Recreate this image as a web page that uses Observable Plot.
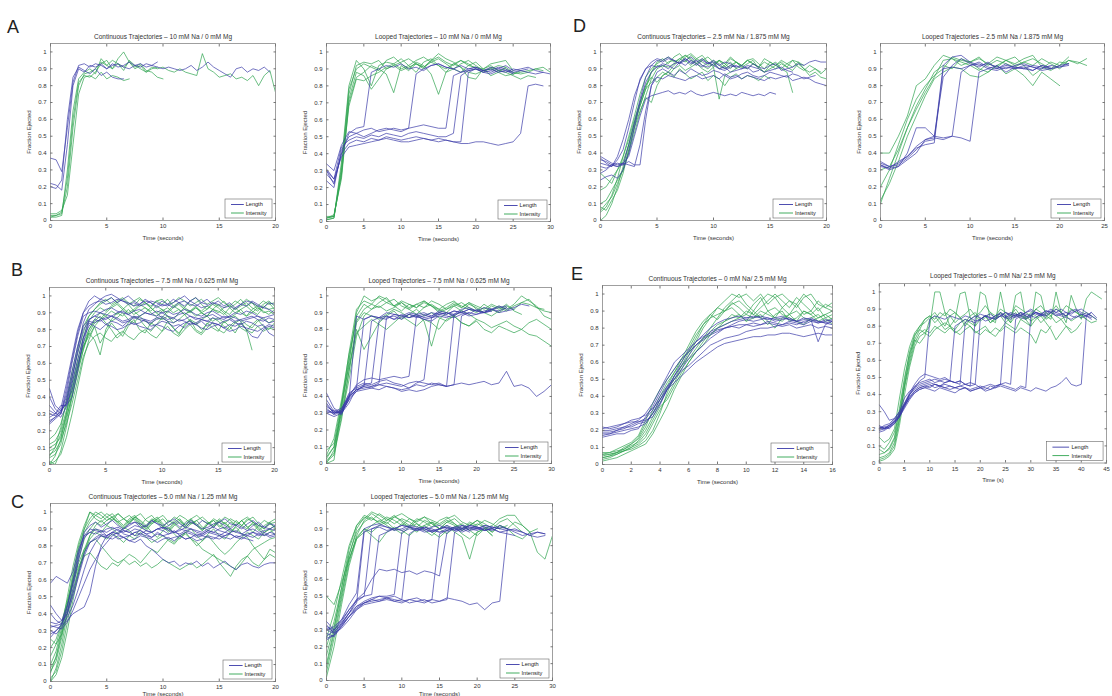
<!DOCTYPE html>
<html><head><meta charset="utf-8">
<script src="https://cdn.jsdelivr.net/npm/d3@7"></script>
<script src="https://cdn.jsdelivr.net/npm/@observablehq/plot@0.6"></script>
<style>
body{margin:0;background:#fff;}
#wrap{position:relative;width:1112px;height:696px;overflow:hidden;background:#fff;font-family:"Liberation Sans",Arial,sans-serif;}
.letter{position:absolute;font-size:18px;line-height:18px;color:#222;}
.pan{position:absolute;}
</style></head><body><div id="wrap"></div>
<script>
// ---- values are Fraction Ejected in hundredths (100 = 1.0), sampled every dt seconds ----
const yTickValues=[0,10,20,30,40,50,60,70,80,90,100];
const yTickLabels=["0","0.1","0.2","0.3","0.4","0.5","0.6","0.7","0.8","0.9","1"];
const seriesNames=["Length","Intensity"];
const panelLetters=["A","B","C","D","E"];
const panelTitles=[
 "Continuous Trajectories – 10 mM Na / 0 mM Mg","Looped Trajectories – 10 mM Na / 0 mM Mg",
 "Continuous Trajectories – 2.5 mM Na / 1.875 mM Mg","Looped Trajectories – 2.5 mM Na / 1.875 mM Mg",
 "Continuous Trajectories – 7.5 mM Na / 0.625 mM Mg","Looped Trajectories – 7.5 mM Na / 0.625 mM Mg",
 "Continuous Trajectories – 0 mM Na/ 2.5 mM Mg","Looped Trajectories – 0 mM Na/ 2.5 mM Mg",
 "Continuous Trajectories – 5.0 mM Na / 1.25 mM Mg","Looped Trajectories – 5.0 mM Na / 1.25 mM Mg"];
const xTicks20=[0,5,10,15,20], xTicks30=[0,5,10,15,20,25,30], xTicks25=[0,5,10,15,20,25];
const xTicks16=[0,2,4,6,8,10,12,14,16], xTicks45=[0,5,10,15,20,25,30,35,40,45];
const xLabels=["Time (seconds)","Time (s)"];

// A continuous (dt 0.5)
const A_cont_len=[
[37,36,29,55,82,92,93,91,93,92,90,93,91,92,94,92,91,93,92,91,90,91,90,89,90,92,89,91,94,91,89,87,85,90,91,88,90,89,91,88],
[22,21,18,45,80,90,88,92,91,93,90,92,93,91,90,92,93,91,92,94],
[20,19,24,60,85,91,89,87,90,86,88,85,84,84]];
const A_cont_int=[
[3,3,4,20,55,80,87,88,90,94,92,90,93,89,95,92,90,88,91,90,91,89,88,90,88,87,86,99,90,88,85,86,87,84,85,83,86,80,86,89,76],
[2,3,5,25,60,82,86,85,88,93,95,90,96,100,94,91,93,89,88,85,84],
[4,4,6,15,45,75,85,86,84,88,84,86,85,83,84],
[2,2,3,30,65,84,88,90,87,96,92,95,93,91,94,90,92,88,90,91]];
// A looped (dt 1)
const A_loop_len=[
[30,22,40,52,55,56,88,90,92,91,93,90,91,89,92,93,91,90,88,89,90,88,87,89,88,90,89,88,87,88,87],
[34,30,45,53,52,54,55,53,54,55,54,55,87,90,92,93,91,90,92,90,91,89,88,90,89,88],
[24,20,42,50,52,50,52,54,55,54,53,55,56,57,56,55,55,86,88,90,91,89,90,88,89,87],
[30,25,44,48,50,49,51,50,52,51,50,52,53,52,51,50,50,52,86,89,90,88,89,91,90,88,89,90],
[28,23,40,46,48,47,49,48,50,49,48,49,50,49,48,49,48,47,47,88,90,89,91,90,92,89,90,91,89,88],
[31,25,38,44,45,46,47,48,49,48,47,47,48,49,48,47,48,47,46,46,47,47,46,45,46,47,52,80,81,80]];
const A_loop_int=[
[2,3,30,75,92,94,93,95,90,92,94,96,93,91,95,97,94,92,95,93,90,88,91,89,90,87,88,89,90,91,88],
[1,2,35,80,95,90,80,92,94,93,96,92,95,97,94,96,93,90,88,92,94,90,86,88,91],
[2,4,25,70,85,88,92,90,87,76,92,89,93,91,94,92,88,90,93,95,92,89,90,88,86,87,89],
[3,3,28,68,84,83,86,88,91,93,90,92,88,94,96,92,90,93,91,88,87,89,90,92,91,88,87,88,90,89],
[1,2,32,78,90,93,91,89,95,97,93,90,94,92,87,75,88,93,95,92,91,90,93,94,95,89],
[2,3,27,72,88,86,78,84,90,92,89,91,93,90,95,99,96,94,91,85,84,90,92,89,88,86,84,86,85]];
// D continuous (dt 0.5)
const D_cont_len=[
[36,35,33,34,33,45,58,72,85,92,95,94,96,95,93,95,97,94,96,93,95,92,94,93,91,92,90,93,91,90,92,93,89,90,91,93,92,94,95,94,94],
[38,36,34,33,34,38,50,62,72,74,75,76,77,75,76,75,77,75,74,75,76,75,74,75,74,76,75,74,75,74,76,75],
[28,30,33,32,34,33,32,45,65,80,85,84,86,85,84,83,85,86,84,85,86,84,87,85,86,84,86,85,84,83,85,84,85,86,83,84,85,84,82,81,80],
[24,26,27,25,30,40,55,70,82,88,91,92,90,93,94,92,95,93,91,94,92,90,91,88,89,90,92,91,90,88,89,90,91,89,88],
[34,33,32,36,42,55,70,84,90,94,96,95,97,95,93,96,94,92,95,93,94,92,90,92,91],
[32,31,33,32,33,35,33,33,60,80,88,90,88,86,89,87,90,88,86,87,89,88,86,84,85,87,88,86,85,86,88,87,86,85,87,86,84,85,86],
[37,34,32,38,48,60,74,83,90,92,91,93,92,90,94,96,93,95,92,91,93,90,89,91,92,90,91,88,89]];
const D_cont_int=[
[5,8,15,25,38,50,62,75,85,90,93,95,97,94,96,98,95,93,96,94,92,95,93,90,94,92,95,93,91,94,92,90,93,91,95,94,90,86,88,85,84],
[10,12,18,24,30,42,55,65,73,70,80,86,88,92,95,98,96,93,95,97,94,90,92,96,94,91,93,95,90,88,92,94,90,88,76],
[18,20,25,30,35,45,58,70,80,88,92,91,94,95,93,97,99,96,94,92,95,93,90,92,94,91,90,93,91,88,90,92,94,91,89,93,90,88,90,87,90],
[0,3,10,20,32,45,58,68,78,82,85,88,86,90,92,89,91,93,90,88,91,72,86,88,90],
[6,10,14,22,30,40,52,64,74,84,90,92,91,93,96,94,98,95,92,90,93,95,91,94,90,92,95,93,91,96,94,92,90,93,95,91,89,92,90,88],
[28,25,22,30,38,48,60,70,80,85,82,86,88,85,90,87,84,86,88,83,86,84,80,85,87,84,86,85,83,86,84],
[8,6,12,18,28,42,56,68,78,88,94,96,93,97,99,95,92,96,98,94,91,95,93,97,94,92,95,96,93,90,94,92,95,93,91,94,92]];
// D looped (dt 1)
const D_loop_len=[
[34,32,33,37,42,47,48,92,97,98,94,92,93,91,90,92,93,91,90,92,91,93],
[32,31,35,38,43,45,46,90,91,90,92,93,90,89,91,90,92,91,89,90,92,93],
[33,30,32,36,40,48,50,49,50,88,92,94,91,90,93,90,91,89,92,91],
[35,32,34,38,44,48,49,48,50,49,47,88,90,92,88,91,90,89,92,90,91,92],
[33,31,32,40,55,55,50,85,92,96,93,91,94,90,92,91,90,92,91,90]];
const D_loop_int=[
[10,25,40,55,68,78,88,92,90,96,94,97,92,95,93,91,94,92,96,93,90,95,93,96],
[20,30,45,60,72,80,86,90,97,95,94,96,93,97,95,92,94,96,93,90,94,93],
[40,40,50,62,80,84,92,98,96,94,92,89,93,91,95,97,92,86,90,94,92,95,94,92],
[12,22,35,50,62,74,84,88,91,90,86,85,88,92,87,90,86,80,88,84,80],
[30,32,42,55,66,76,85,95,96,92,94,90,88,92,95,93,96,98,91,89,92,97]];
// B continuous (dt 0.5)
const B_cont_len=[
[25,28,30,45,62,78,90,97,100,98,97,99,96,98,100,97,95,98,96,94,97,95,98,96,94,97,99,96,98,95,97,94,96,93,95,94,97,95,93,96,95],
[30,29,31,40,55,70,82,86,88,87,86,88,87,85,86,88,87,86,85,87,88,86,87,85,86,88,87,86,85,87,86,88,87,85,86,87,88,86,85,87,86],
[40,33,30,38,52,66,80,85,84,86,83,85,84,82,85,83,84,86,82,83,85,84,82,83,81,84,83,85,82,84,83,81,83,82,84,80,76,75,80,82,81],
[26,28,32,36,50,68,84,92,95,98,100,101,99,97,96,94,95,97,96,93,95,94,96,98,100,97,95,93,94,96,95,93,94,92,95,97,96,94,93,92,90],
[32,30,35,35,40,55,75,86,88,90,89,88,90,91,89,87,88,90,89,91,90,88,87,89,90,88,86,87,88,89,87,86,88,87,85,86,87,88,86,84,85],
[24,27,30,42,60,76,88,90,91,90,92,93,91,90,89,91,92,90,89,88,90,91,89,90,92,91,89,88,90,91,89,87,88,90,89,91,90,88,87,88,89],
[45,35,32,36,44,58,72,84,82,80,83,82,80,81,83,84,82,81,80,83,82,80,79,82,84,85,83,81,80,82,83,81,79,80,82,81,80,79,81,83,82],
[28,30,33,48,64,80,90,94,96,97,95,96,98,97,95,96,94,95,97,96,94,95,93,96,97,95,94,96,95],
[35,31,28,34,48,62,75,82,86,85,87,88,86,84,85,87,86,85,84,86,87,85,84,86,85,83,84,86,85,84,83,85,86,84,83,85,84,82,83,78,76]];
const B_cont_int=[
[5,10,22,38,55,70,82,88,92,95,97,99,96,98,95,97,99,96,94,97,98,95,96,99,97,94,96,98,95,97,99,96,94,97,95,98,96,94,97,95,96],
[0,5,15,30,48,62,75,85,90,93,91,94,96,93,90,92,95,93,91,94,92,90,93,95,92,90,93,91,94,92,90,93,95,92,94,96,93,91,94,92,93],
[12,14,20,32,46,60,70,76,82,72,78,84,80,76,82,86,80,78,84,82,79,85,81,77,83,86,80,78,84,81,79,85,82,78,84,80,78,82,79,81,80],
[8,10,18,30,44,58,70,78,74,65,80,86,90,88,92,89,91,93,90,88,91,93,90,92,89,91,94,90,88,92,91,89,93,90,92,88,90,93,91,89,92],
[2,0,8,22,40,56,68,78,84,86,88,85,87,90,86,84,88,85,83,87,86,88,84,86,89,85,83,86,88,85,87,84,86,88,85,80,68],
[15,18,24,36,52,66,78,88,92,96,98,95,97,99,96,94,98,96,93,97,95,98,94,96,93,97,99,95,92,96,94,97,93,95,98,94,96,92,95,97,94],
[4,6,12,26,42,58,72,80,85,88,84,80,75,78,84,88,86,82,79,83,87,85,81,78,82,86,84,80,83,87,85,82,80,84,86,83,81,85,87,84,86],
[10,12,16,28,40,54,68,80,86,90,88,91,89,92,95,91,88,90,93,90,87,91,94,92,89,91,93,90,88,92,95,91,89,93,90,88,92,94,90,91,89],
[0,2,6,16,30,46,62,74,82,86,90,93,95,92,89,91,94,96,93,90,92,88,86,90,93,91,88,90,92,95,93,90,87,89,92,94,91,89,93,96,92],
[6,8,14,24,36,50,64,72,76,78,75,73,77,79,76,74,78,80,77,75,79,82,78,76,80,83,79,77,81,84,80,78,82,85,81,79,83,86,82,80,84]];
// B looped (dt 1)
const B_loop_len=[
[32,30,31,38,88,86,88,87,90,89,88,87,89,90,88,91,90,89,92,93,91,90,92,93,94],
[38,31,30,36,45,86,88,87,86,89,88,90,89,87,88,90,89,91,90,92,91,93,92,94,92,93,95,94],
[30,32,29,40,44,46,85,87,88,86,89,87,88,86,85,88,87,89],
[42,33,30,38,43,47,48,85,88,86,87,89,88,86,87,88],
[35,30,32,42,45,47,46,48,87,88,86,89,87,88,90,89,88,87,89,90],
[33,29,31,40,47,50,51,50,51,52,51,52,88,89,87,90,89,91,90,88,89,90,91],
[31,30,32,41,46,48,47,49,50,48,47,45,48,50,87,89,90,88,91,89,92,90,91],
[36,30,31,40,44,46,45,47,46,45,44,45,47,46,48,47,46,89,90,92,91,90,92,91,93],
[30,28,30,39,43,44,45,44,46,45,43,44,43,44,46,47,46,47,88,90,89,91,92,90,91,92],
[34,31,33,40,44,45,46,47,48,47,46,48,49,48,47,48,46,47,48,47,48,49,47,48,55,46,47,45,40,43,47]];
const B_loop_int=[
[0,8,32,60,90,100,97,99,96,94,97,95,93,96,94,92,95,97,93,96,94,92,95,93,91,94,96,98,93,91,90],
[5,15,38,65,85,92,95,100,98,94,96,93,95,97,94,91,93,96,94,92,90,93,91,94,92,95,100,97,94,88,86],
[3,10,30,55,80,68,76,84,88,91,86,89,92,88,90,87,85,88,84,82,85,80,78,82,80,78,80,77,76,73,70],
[0,2,35,62,88,95,92,96,99,94,91,95,93,97,94,90,92,95,93,96,92,90,94,92,95,91,89],
[8,12,36,58,78,82,86,83,80,84,88,85,82,86,84,80,86,88,84,82,86,84,81,83,85,82,80,84,86,83,80],
[2,6,28,50,76,88,92,94,91,93,96,92,89,93,95,92,90,94,96,93,91,95,92,90,93],
[4,10,34,66,92,97,95,93,96,98,94,92,95,93,97,95,92,94,91,95,93,90,88,91,94,92,96,95,93,92],
[1,5,26,55,84,90,88,86,89,92,90,87,89,85,70,86,90,88,91,89,86]];
// E continuous (dt 0.5)
const E_cont_len=[
[20,20,21,22,22,24,25,30,38,45,52,58,64,70,74,78,80,82,84,85,86,86,87,86,85,86,85,84,85,86,84,83,82],
[16,17,18,18,20,21,28,34,42,50,56,62,66,70,73,76,78,80,81,82,82,83,82,84,83,82,84,83,82,84,83,85,84],
[19,19,20,21,23,25,27,32,40,46,50,55,58,62,66,70,72,74,75,76,78,79,80,80,81,82,83,82,84,85,83,84,85],
[22,21,22,24,26,27,29,33,38,44,48,52,56,60,63,66,69,71,72,73,74,75,75,76,76,77,77,76,75,76,77,76,76],
[18,18,19,20,21,22,24,30,36,44,52,60,67,72,76,80,83,85,86,87,86,87,86,85,86,87,85,84,86,85,72,82,84],
[21,22,23,24,25,25,26,28,35,44,50,56,62,66,70,74,77,80,82,84,85,84,85,86,84,85,86,84,83,85,84,83,84],
[17,18,20,22,24,26,30,36,44,52,60,64,68,72,75,77,79,80,81,80,82,81,82,83,82,81,82,80,81,82,80,81,80]];
const E_cont_int=[
[5,6,7,8,10,12,16,24,32,40,48,56,64,72,80,86,92,96,100,98,100,96,100,94,98,100,96,92,98,100,94,92,95],
[4,5,6,8,10,14,20,28,36,44,50,58,66,74,82,88,85,90,95,92,88,94,98,90,86,92,96,94,88,90,86,88,90],
[7,7,8,9,11,13,18,26,34,38,46,54,60,66,70,76,80,84,88,86,90,88,86,90,92,88,86,84,90,88,92,86,88],
[3,4,6,8,9,11,14,20,30,42,52,58,62,68,74,80,86,92,96,100,94,90,96,100,98,92,88,94,100,96,90,94,92],
[6,6,7,9,12,15,22,32,40,48,54,60,68,76,82,86,88,90,92,88,84,90,86,82,88,90,84,86,90,88,84,86,82],
[4,5,7,10,12,16,24,30,38,46,54,62,70,78,84,88,92,90,94,96,92,88,92,96,100,96,92,98,94,90,96,92,90],
[2,3,4,6,8,10,12,18,26,34,44,52,60,66,72,78,82,84,86,88,84,86,88,84,80,86,88,84,82,86,88,84,86],
[6,7,9,11,13,17,26,36,44,50,56,62,66,70,74,76,80,82,84,86,88,86,90,88,86,84,88,90,86,84,86,88,85]];
// E looped (dt 1)
const E_loop_len=[
[20,20,21,24,28,34,40,44,48,50,84,86,85,84,86,85,84,86,85,83,84,86,85,84,86,85,87,86,85,84,86,85,87,86,88,87,86,85,84,86,85,86,84],
[34,30,25,26,30,38,42,44,46,47,48,49,48,47,48,80,82,84,83,82,84,86,85,84,86,88,87,86,88,87,86,88,87,85],
[22,20,22,25,28,35,40,43,45,46,47,46,45,47,48,47,46,82,84,86,85,83,84,86,87,85,84,86,88,86],
[18,19,21,23,27,33,39,42,44,45,46,44,45,46,45,44,45,46,45,85,87,86,84,86,88,86,85,87,86,88,89,87,86,88,90,88,87,86,89,90,88,87,86,84],
[21,21,22,25,29,34,40,45,47,48,49,47,48,49,48,47,48,46,47,46,84,86,87,85,86,88,86,85,87,86,85],
[19,20,21,24,28,34,38,41,43,44,45,46,45,44,43,44,45,44,43,44,45,44,43,45,46,86,88,87,86,88,90,88,87,89,88,86,87,88,86,85,87,86,85],
[20,22,23,26,30,35,41,46,50,52,51,50,49,50,48,47,48,46,45,46,44,45,46,45,46,47,46,84,86,85,87,88,86,87,89,88,90,88,87,89,90,88,86],
[21,20,22,24,27,33,38,42,44,45,44,46,45,44,45,44,43,44,42,43,44,43,45,44,46,45,44,43,45,44,86,88,87,89,88,90,88,86,88,89,87,86,88],
[20,21,20,23,27,32,37,41,43,44,43,42,44,43,42,41,43,44,42,43,44,42,43,44,45,44,43,42,44,43,42,44,43,42,44,45,47,50,46,45,46,86,88,85]];
const E_loop_int=[
[2,3,5,10,25,45,62,74,80,84,86,82,85,88,86,82,85,80,84,86,83,85,88,84,86,82,85,88,84,86,83,85,87,84,86,82,84,86,83,85,87,84,82,83],
[10,8,12,18,30,48,65,75,78,76,80,100,100,88,80,84,99,100,85,80,100,98,84,82,100,86,82,98,100,84,80,100,98,86,84,100,88,82,98,90,84,96,100,98,96],
[5,6,8,14,28,44,58,70,76,78,76,80,78,76,79,77,75,78,80,77,75,78,76,79,77,80,78,76,79,77,75,70,78,76,80],
[15,12,14,20,38,55,68,76,80,82,85,88,84,80,86,88,85,82,86,88,84,86,82,85,88,84,86,90,86,84,88,86,82,85,88,86,84,80,76,78,82],
[1,2,4,8,22,40,56,68,74,76,74,78,80,82,80,78,82,84,82,80,84,86,82,84,88,86,82,86,88,84,86,90,88,86,88,92,88,86,90,88,86,88,86,84],
[8,6,9,15,32,50,64,72,70,74,84,86,82,78,80,76,78,82,80,76,78,80,76,74,78,82,80,78,84,82,80,84,86,82,78,72,76,80,78],
[3,4,6,12,26,46,60,72,78,84,86,84,88,86,90,88,85,87,90,86,88,92,88,86,90,88,86,92,90,88,86,90,92,88,86,90,88,92,90,88,86,84]];
// C continuous (dt 0.5)
const C_cont_len=[
[32,33,34,40,55,72,85,88,90,89,88,90,91,89,88,90,89,87,88,90,91,89,88,87,89,90,88,87,89,88,90,91,89,88,87,89,90,88,89,90,89],
[58,62,60,58,65,78,86,88,87,89,86,88,90,87,86,88,89,87,85,88,86,87,89,86,88,87,85,86,88,87,86,88,87,85,86,87,88,86,87,85,86],
[30,28,32,38,45,55,66,76,82,86,85,87,84,85,83,82,84,80,78,75,72,70,71,68,70,69,71,68,70,67,69,71,68,66,69,70,68,67,69,70,70],
[35,34,36,45,58,74,88,92,94,91,93,95,92,90,93,94,91,92,95,93,90,92,94,91,93,95,92,90,91,93,94,92,90,93,91,89,92,94,91,90,92],
[28,30,33,36,40,42,44,52,68,80,86,88,87,89,88,86,87,89,88,90,89,87,88,90,89,88,86,87,89,88,87,86,88,89,87,86,85,87,88,86,87],
[40,36,34,44,60,76,86,90,89,88,90,91,89,88,90,92,91,89,88,90,91,90,88,89,91,90,89,88,90,91,89,88,90],
[26,30,34,42,52,64,76,82,84,86,85,84,86,85,83,84,86,85,84,82,84,85,83,86,84,85,83,84,86,85,84,86,87,85,84,86,88,87,86,88,87],
[33,32,31,35,42,50,58,66,72,78,82,86,88,90,92,94,93,91,95,93,92,94,96,93,91,94,92,95,93,91,94,96,93,92,90,93,95,92,91,93,92],
[45,40,36,40,50,62,74,82,85,87,86,88,87,85,86,88,87,86,85,87,86,84,85,86,84,85,87,86,85,84,86,85,84,86,85,84,83]];
const C_cont_int=[
[5,15,30,45,62,78,90,96,100,98,95,97,99,96,94,97,99,95,93,96,98,94,97,95,92,96,98,95,93,96,94,97,95,92,95,97,94,92,95,93,94],
[0,8,22,40,58,72,84,90,94,92,95,97,93,90,94,96,92,89,93,95,91,88,92,94,90,93,95,91,89,92,94,90,88,92,95,91,93,89,92,94,90],
[20,25,35,48,60,70,78,82,84,80,76,72,70,72,69,71,68,70,67,69,72,70,68,66,68,70,67,69,72,75,70,66,62,68,72,74,70,68,72,75,73],
[10,18,32,50,68,82,92,100,96,94,97,99,95,92,96,98,94,91,95,97,93,90,94,96,92,95,93,90,94,92,96,93,91,95,92,90,94,91,88,90,92],
[2,6,18,35,52,66,78,86,90,88,92,90,87,91,89,86,90,92,88,85,89,91,87,84,88,90,86,83,87,90,86,84,88,91,87,85,80,76,72,78,76],
[15,22,34,46,58,68,74,76,72,68,66,70,68,72,75,73,70,74,78,76,80,84,82,86,88,84,80,83,86,82,78,75,78,82,85,88,86,84,88,90,86],
[6,12,26,42,60,76,88,94,98,96,99,97,94,96,98,95,92,96,98,94,96,92,95,98,96,93,95,97,94,91,95,93,96,94,92,95,97,93,90,94,96],
[25,22,28,40,54,66,76,84,88,86,84,87,85,82,86,84,88,85,82,84,86,83,81,85,87,84,82,78,76,74,72,70,68,66,70,74,78,80,82,84,85],
[0,4,14,30,48,64,76,86,92,95,92,96,94,91,95,97,93,90,94,96,92,89,93,95,91,94,92,89,93,95,92,90,94,92,95,91,88,92,90,93,91],
[8,14,28,46,64,80,90,100,98,100,97,95,99,96,93,97,95,92,96,94,91,95,93,90,94,96,92,89,93,95,91,94,90,88,92,96,94,90,86,88,90]];
// C looped (dt 1)
const C_loop_len=[
[30,28,34,40,46,88,90,91,89,90,92,91,89,90,88,90,91,89,90,88],
[25,27,33,40,48,50,90,92,91,89,90,92,91,90,88,90,91,89,92,91,90,89,91],
[32,30,35,42,47,50,51,86,88,90,89,91,90,88,89,90,92,90,89,91,90,92,91,90,89],
[28,26,32,38,44,47,49,50,50,51,88,90,89,91,90,88,89,91,90,92,91,89,90,88,87,86],
[30,32,36,42,48,52,60,66,65,66,64,65,63,65,64,62,88,90,91,89,90,92,91,90],
[33,28,31,36,42,46,48,47,49,50,48,87,90,91,89,88,90,91,92,90,89,91,90,92,90,89,88,86,88,87],
[26,30,34,40,44,46,47,48,49,48,47,48,49,47,48,87,89,90,88,90,91,89,90,88,89,90,88,86,85,86],
[31,29,33,38,43,46,48,50,49,47,48,46,47,48,46,47,48,88,90,92,91,90,89,91,90],
[24,27,32,38,42,45,46,47,48,47,46,48,47,46,48,47,49,48,47,45,46,42,46,47,90,88,86,87,88,87],
[35,30,36,45,52,90,92,93,91,90,92,91,90,89,91,92,90]];
const C_loop_int=[
[10,30,55,78,92,96,100,98,95,97,99,96,94,97,95,93,96,98,94,92,95,93,90,94,96,92,88],
[20,35,55,75,88,94,97,93,95,98,94,91,95,97,93,90,94,96,92,89,93,91,88,92,90,94,92,88,76,72,86],
[50,45,58,72,85,90,88,92,94,90,87,91,93,89,86,90,92,88,85,72,88,90,86],
[5,25,48,70,86,95,99,96,93,97,95,92,96,94,91,95,97,93,90,94,92,95,93,90,92],
[15,32,52,72,84,88,92,95,92,89,93,91,88,92,94,90,87,91,93,89,86,90,92,96,98,98,92,88,90],
[8,28,50,74,90,97,95,99,96,93,96,94,91,95,93,90,94,92,89,93,91],
[25,40,60,80,92,98,96,94,97,95,92,96,93,90,94,92,95,93,89,92,95,91,88,92,90,86,84,88],
[2,20,45,68,84,90,86,82,88,91,89,86,90,92,88,85,89,91,87,84,88,90,86]];

// ---- layout (pixel placement of each panel's frame: left, top, right, bottom) ----
const BLUE="#3a3aa8", GREEN="#2ea44f", FONT='"Liberation Sans", Arial, sans-serif';
const panels=[
 {ti:0,dt:0.5,xmax:20,xt:xTicks20,xl:0,len:A_cont_len,int:A_cont_int,box:[50,43,275,220],lw:47,lo:19},
 {ti:1,dt:1,xmax:30,xt:xTicks30,xl:0,len:A_loop_len,int:A_loop_int,box:[326,43,550,221],lw:49,lo:19},
 {ti:2,dt:0.5,xmax:20,xt:xTicks20,xl:0,len:D_cont_len,int:D_cont_int,box:[600,43,826,220],lw:50,lo:19},
 {ti:3,dt:1,xmax:25,xt:xTicks25,xl:0,len:D_loop_len,int:D_loop_int,box:[880,43,1104,220],lw:50,lo:19},
 {ti:4,dt:0.5,xmax:20,xt:xTicks20,xl:0,len:B_cont_len,int:B_cont_int,box:[49,287,274,464],lw:49,lo:19},
 {ti:5,dt:1,xmax:30,xt:xTicks30,xl:0,len:B_loop_len,int:B_loop_int,box:[326,287,551,463],lw:49,lo:19},
 {ti:6,dt:0.5,xmax:16,xt:xTicks16,xl:0,len:E_cont_len,int:E_cont_int,box:[602,285,832,464],lw:58,lo:19},
 {ti:7,dt:1,xmax:45,xt:xTicks45,xl:1,len:E_loop_len,int:E_loop_int,box:[879,283,1108,464],lw:57,lo:19},
 {ti:8,dt:0.5,xmax:20,xt:xTicks20,xl:0,len:C_cont_len,int:C_cont_int,box:[50,503,275,681],lw:49,lo:14},
 {ti:9,dt:1,xmax:30,xt:xTicks30,xl:0,len:C_loop_len,int:C_loop_int,box:[326,503,552,680],lw:49,lo:15}];
const letterPos=[[7,18],[11,261],[11,493],[573,17],[571,265]];

const wrap=document.getElementById("wrap");
panelLetters.forEach((L,i)=>{const d=document.createElement("div");d.className="letter";d.textContent=L;
  d.style.left=letterPos[i][0]+"px";d.style.top=letterPos[i][1]+"px";wrap.appendChild(d);});

const mL=30,mR=6,mT=14,mB=22;
panels.forEach(p=>{
  const [x0,y0,x1,y1]=p.box;
  const rows=(arr,name)=>arr.flatMap((tr,i)=>tr.map((v,j)=>({t:j*p.dt,v,k:name+i})));
  const Lr=rows(p.len,"L"), Ir=rows(p.int,"I");
  const yfmt=d=>yTickLabels[yTickValues.indexOf(d)];
  const svg=Plot.plot({
    width:x1-x0+mL+mR,height:y1-y0+mT+mB,
    marginLeft:mL,marginRight:mR,marginTop:mT,marginBottom:mB,
    style:{fontFamily:FONT,fontSize:"6px",color:"#333",background:"transparent",overflow:"visible"},
    x:{domain:[0,p.xmax]},
    y:{domain:[0,105]},
    marks:[
      Plot.line(Ir,{x:"t",y:"v",z:"k",stroke:GREEN,strokeWidth:0.9,strokeOpacity:0.78,clip:true}),
      Plot.line(Lr,{x:"t",y:"v",z:"k",stroke:BLUE,strokeWidth:0.9,strokeOpacity:0.78,clip:true}),
      Plot.frame({stroke:"#777",strokeWidth:0.7}),
      Plot.axisX({ticks:p.xt,tickFormat:d=>String(d),tickSize:-2.5,tickPadding:6,stroke:"#777",fill:"#333",
        label:xLabels[p.xl],labelAnchor:"center",labelArrow:"none",labelOffset:p.lo}),
      Plot.axisX({anchor:"top",ticks:p.xt,tickFormat:()=>"",tickSize:-2.5,stroke:"#777",label:null}),
      Plot.axisY({ticks:yTickValues,tickFormat:yfmt,tickSize:-2.5,tickPadding:6.5,stroke:"#777",fill:"#333",
        label:"Fraction Ejected",labelAnchor:"center",labelArrow:"none",labelOffset:24}),
      Plot.axisY({anchor:"right",ticks:yTickValues,tickFormat:()=>"",tickSize:-2.5,stroke:"#777",label:null}),
      Plot.text([panelTitles[p.ti]],{frameAnchor:"top",dy:-5,lineAnchor:"bottom",fontSize:6.5,fill:"#333"})
    ]
  });
  // legend box (lower right, inside frame)
  const xr=svg.scale("x").range, yr=svg.scale("y").range;
  const R=Math.max(...xr), B=Math.max(...yr);
  const lw=p.lw, lh=19, lx=R-lw-3, ly=B-lh-2;
  const g=d3.select(svg).append("g");
  g.append("rect").attr("x",lx).attr("y",ly).attr("width",lw).attr("height",lh)
   .attr("fill","white").attr("stroke","#666").attr("stroke-width",0.6);
  [[BLUE,seriesNames[0]],[GREEN,seriesNames[1]]].forEach(([c,n],i)=>{
    const yy=ly+5.5+i*8.5;
    g.append("line").attr("x1",lx+6).attr("x2",lx+lw*0.4).attr("y1",yy).attr("y2",yy)
     .attr("stroke",c).attr("stroke-width",0.9);
    g.append("text").attr("x",lx+lw*0.44).attr("y",yy).attr("dy","0.35em").attr("text-anchor","start")
     .attr("font-size",5.6).attr("fill","#222").attr("font-family",FONT).text(n);
  });
  const d=document.createElement("div");d.className="pan";
  d.style.left=(x0-mL)+"px";d.style.top=(y0-mT)+"px";
  d.appendChild(svg);wrap.appendChild(d);
});
</script></body></html>
